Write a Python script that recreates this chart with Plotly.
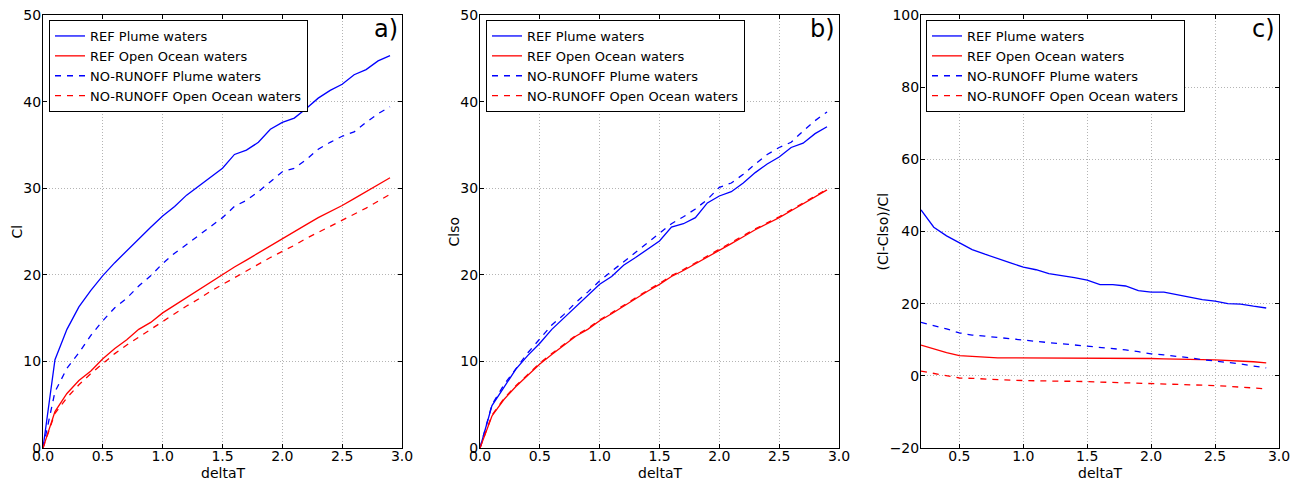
import plotly.graph_objects as go

# ---------------- data ----------------
dT = [round(0.1 * i, 1) for i in range(30)]          # 0.0 .. 2.9
dT_c = dT[2:]                                         # 0.2 .. 2.9

cl_ref_plume = [0, 10.2, 13.7, 16.3, 18.2, 19.9, 21.4, 22.8, 24.2, 25.5, 26.8, 27.9, 29.2, 30.2, 31.3,
                32.3, 33.9, 34.4, 35.3, 36.8, 37.6, 38.1, 39.2, 40.4, 41.3, 42.0, 43.1, 43.7, 44.7, 45.3]
cl_ref_open = [0, 4.2, 6.3, 7.8, 8.9, 10.3, 11.5, 12.5, 13.7, 14.5, 15.6, 16.5, 17.4, 18.3, 19.2,
               20.0, 20.9, 21.7, 22.5, 23.4, 24.1, 25.0, 25.8, 26.6, 27.3, 28.0, 28.8, 29.6, 30.4, 31.2]
cl_nor_plume = [0, 6.5, 9.2, 11.0, 13.0, 14.7, 16.2, 17.3, 18.7, 19.9, 21.3, 22.5, 23.5, 24.5, 25.6,
                26.6, 27.9, 28.6, 29.6, 30.7, 31.9, 32.3, 33.3, 34.5, 35.3, 36.0, 36.5, 37.6, 38.6, 39.4]
cl_nor_open = [0, 4.0, 5.8, 7.3, 8.6, 9.8, 10.9, 11.9, 12.8, 13.8, 14.7, 15.5, 16.4, 17.2, 18.1,
               18.9, 19.7, 20.5, 21.3, 22.0, 22.7, 23.4, 24.2, 24.9, 25.6, 26.3, 27.0, 27.7, 28.5, 29.3]

clso_ref_plume = [0, 4.9, 7.0, 9.1, 10.7, 12.1, 13.7, 15.0, 16.3, 17.5, 18.9, 19.8, 21.1, 22.0, 23.0,
                  23.9, 25.5, 25.9, 26.6, 28.3, 29.1, 29.6, 30.6, 31.8, 32.8, 33.6, 34.7, 35.2, 36.3, 37.1]
clso_ref_open = [0, 3.7, 5.6, 7.1, 8.4, 9.7, 10.8, 11.8, 12.9, 13.7, 14.7, 15.5, 16.4, 17.2, 18.1,
                 18.9, 19.8, 20.5, 21.3, 22.1, 22.8, 23.6, 24.4, 25.2, 25.9, 26.6, 27.4, 28.2, 29.0, 29.8]
clso_nor_plume = [0, 5.0, 7.3, 9.2, 11.0, 12.6, 14.2, 15.4, 16.8, 18.0, 19.3, 20.4, 21.5, 22.6, 23.7,
                  24.7, 25.9, 26.7, 27.6, 28.7, 30.1, 30.6, 31.6, 32.8, 33.9, 34.7, 35.3, 36.6, 37.8, 38.8]
clso_nor_open = [0, 3.8, 5.7, 7.2, 8.5, 9.8, 10.9, 11.9, 13.0, 13.8, 14.8, 15.6, 16.5, 17.3, 18.2,
                 19.0, 19.9, 20.6, 21.4, 22.2, 22.9, 23.7, 24.5, 25.3, 26.0, 26.7, 27.5, 28.3, 29.1, 29.9]

rel_ref_plume = [46.0, 41.2, 38.8, 36.8, 35.0, 33.7, 32.4, 31.3, 30.1, 29.4, 28.3, 27.8, 27.2, 26.5,
                 25.3, 25.3, 24.9, 23.6, 23.2, 23.2, 22.6, 21.8, 21.1, 20.7, 20.0, 19.9, 19.3, 18.8]
rel_ref_open = [8.5, 7.4, 6.4, 5.6, 5.3, 5.2, 5.0, 5.0, 5.0, 5.0, 4.9, 5.0, 5.0, 4.9,
                4.9, 4.9, 4.8, 4.8, 4.8, 4.7, 4.7, 4.6, 4.5, 4.4, 4.3, 4.1, 3.9, 3.6]
rel_nor_plume = [14.8, 14.0, 13.0, 11.9, 11.3, 11.0, 10.6, 10.2, 9.9, 9.5, 9.2, 8.9, 8.6, 8.3,
                 7.9, 7.6, 7.2, 6.7, 6.1, 5.8, 5.5, 5.0, 4.5, 4.1, 3.8, 3.3, 2.7, 2.2]
rel_nor_open = [1.3, 0.7, -0.1, -0.6, -0.7, -0.9, -1.2, -1.2, -1.3, -1.4, -1.4, -1.5, -1.5, -1.6,
                -1.7, -1.7, -1.8, -1.9, -2.0, -2.1, -2.2, -2.3, -2.5, -2.7, -2.9, -3.1, -3.3, -3.6]

names = ["REF Plume waters", "REF Open Ocean waters", "NO-RUNOFF Plume waters", "NO-RUNOFF Open Ocean waters"]
colors = ["#0000ff", "#ff0000", "#0000ff", "#ff0000"]
dashes = ["solid", "solid", "6px,6px", "6px,6px"]
xtitle = "deltaT"
ytitles = ["Cl", "Clso", "(Cl-Clso)/Cl"]
labels = ["a)", "b)", "c)"]

panels = [
    (dT, [cl_ref_plume, cl_ref_open, cl_nor_plume, cl_nor_open], "x", "y", "legend"),
    (dT, [clso_ref_plume, clso_ref_open, clso_nor_plume, clso_nor_open], "x2", "y2", "legend2"),
    (dT_c, [rel_ref_plume, rel_ref_open, rel_nor_plume, rel_nor_open], "x3", "y3", "legend3"),
]

FONT = "DejaVu Sans"
fig = go.Figure()
for xs, series, xa, ya, lg in panels:
    for name, ys, c, d in zip(names, series, colors, dashes):
        fig.add_trace(go.Scatter(x=xs, y=ys, mode="lines", name=name, xaxis=xa, yaxis=ya,
                                 legend=lg, line=dict(color=c, width=1.3, dash=d)))

W, H = 1292, 481
ydom = [1 - 448 / H, 1 - 15 / H]
xdoms = [[43 / W, 402 / W], [480 / W, 839 / W], [921 / W, 1279 / W]]
GRID = dict(showgrid=True, gridcolor="#b4b4b4", griddash="1px,2px", gridwidth=1)

def xaxis(dom, rng, anchor):
    return dict(domain=dom, range=rng, anchor=anchor, dtick=0.5, tick0=0, tickformat=".1f",
                showline=True, linecolor="black", linewidth=1, mirror="ticks",
                ticks="inside", ticklen=4, tickcolor="black", automargin=False,
                zeroline=False, tickfont=dict(size=14), ticklabelstandoff=-5, **GRID)

def yaxis(rng, dtick, anchor):
    return dict(domain=ydom, range=rng, anchor=anchor, dtick=dtick,
                showline=True, linecolor="black", linewidth=1, mirror="ticks",
                ticks="inside", ticklen=4, tickcolor="black", automargin=False,
                zeroline=False, tickfont=dict(size=14), ticklabelstandoff=-2, **GRID)

def legend(x):
    return dict(x=x, y=1 - 20 / H, xref="paper", yref="paper", xanchor="left", yanchor="top",
                bgcolor="white", bordercolor="black", borderwidth=1,
                font=dict(size=13, family=FONT, color="black"), tracegroupgap=0)

fig.update_layout(
    width=W, height=H, margin=dict(l=0, r=0, t=0, b=0),
    paper_bgcolor="white", plot_bgcolor="white",
    font=dict(family=FONT, color="black", size=14),
    xaxis=xaxis(xdoms[0], [0, 3.0], "y"),
    xaxis2=xaxis(xdoms[1], [0, 3.0], "y2"),
    xaxis3=xaxis(xdoms[2], [0.2, 3.0], "y3"),
    yaxis=yaxis([0, 50], 10, "x"),
    yaxis2=yaxis([0, 50], 10, "x2"),
    yaxis3=yaxis([-20, 100], 20, "x3"),
    legend=legend(49 / W),
    legend2=legend(486 / W),
    legend3=legend(926 / W),
)

ytitle_x = [16, 453, 882]
for i in range(3):
    d = xdoms[i]
    # x-axis title
    fig.add_annotation(text=xtitle, x=(d[0] + d[1]) / 2, y=1 - 473 / H, xref="paper", yref="paper",
                       xanchor="center", yanchor="middle", showarrow=False,
                       font=dict(size=14, family=FONT, color="black"))
    # y-axis title
    fig.add_annotation(text=ytitles[i], x=ytitle_x[i] / W, y=(ydom[0] + ydom[1]) / 2,
                       xref="paper", yref="paper", textangle=-90,
                       xanchor="center", yanchor="middle", showarrow=False,
                       font=dict(size=14, family=FONT, color="black"))
    # panel label
    fig.add_annotation(text=labels[i], x=(d[1] * W - 2) / W, y=1 - 29 / H, xref="paper", yref="paper",
                       xanchor="right", yanchor="middle", showarrow=False,
                       font=dict(size=24, family=FONT, color="black"))

fig.write_html("out.html")
